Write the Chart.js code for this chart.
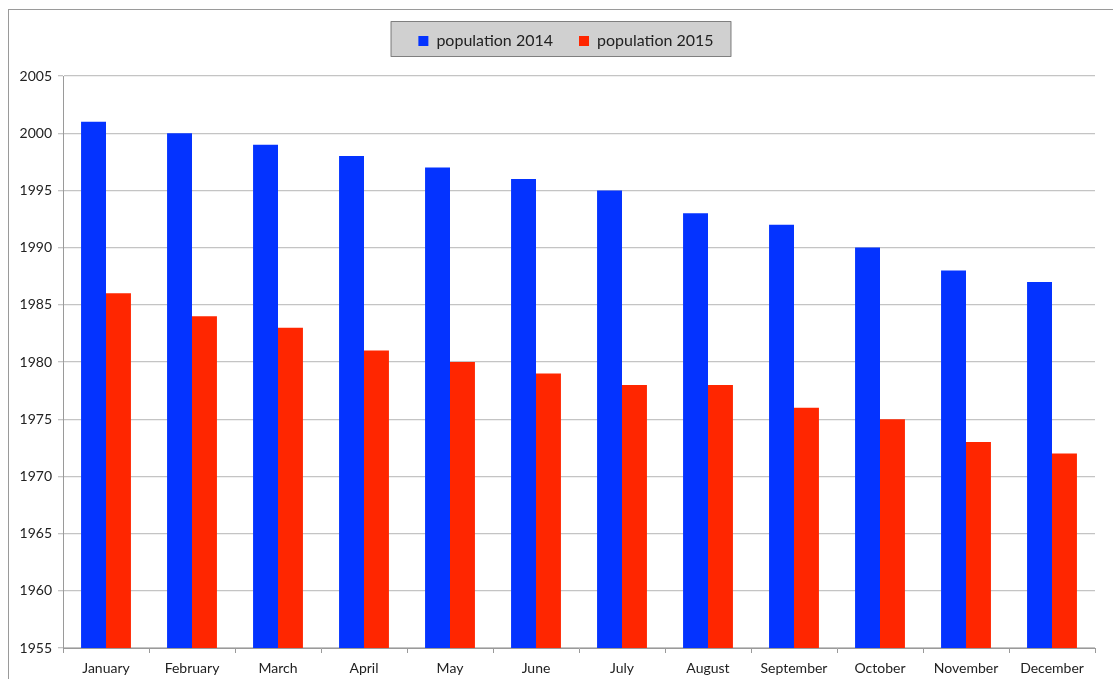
<!DOCTYPE html>
<html>
<head>
<meta charset="utf-8">
<title>Population 2014 / 2015</title>
<script src="https://cdn.jsdelivr.net/npm/chart.js@4"></script>
<style>
  html, body { margin: 0; padding: 0; overflow: hidden; background: #fff; }
  #wrap { position: relative; width: 1113px; height: 679px; }
  #marco { position: absolute; left: 8px; top: 9px; width: 1120px; height: 700px;
           border: 1px solid #9a9a9a; pointer-events: none; }
</style>
</head>
<body>
<div id="wrap">
  <canvas id="grafica" width="1113" height="679"></canvas>
  <div id="marco"></div>
</div>
<script>
// Datos
const meses = ["January", "February", "March", "April", "May", "June",
  "July", "August", "September", "October", "November", "December"];
const poblacion2014 = [2001, 2000, 1999, 1998, 1997, 1996, 1995, 1993, 1992, 1990, 1988, 1987];
const poblacion2015 = [1986, 1984, 1983, 1981, 1980, 1979, 1978, 1978, 1976, 1975, 1973, 1972];
const ejeMin = 1955;
const ejeMax = 2005;
const ejePaso = 5;

const fuente = "Lato, 'Open Sans', sans-serif";

// Caja gris detrás de la leyenda, y leyenda algo desplazada a la derecha
const cajaLeyenda = {
  id: "cajaLeyenda",
  beforeInit(chart) {
    const fitOriginal = chart.legend.fit;
    chart.legend.fit = function () {
      fitOriginal.bind(chart.legend)();
      this.height = 69;
    };
  },
  afterLayout(chart) {
    const leyenda = chart.legend;
    leyenda.left += 37;
    if (typeof leyenda.adjustHitBoxes === "function") leyenda.adjustHitBoxes();
  },
  afterDraw(chart) {
    const leyenda = chart.legend;
    const cajas = leyenda.legendHitBoxes;
    if (!cajas || !cajas.length) return;
    const izq = Math.min(...cajas.map(c => c.left));
    const der = Math.max(...cajas.map(c => c.left + c.width));
    const ctx = chart.ctx;
    ctx.save();
    ctx.globalCompositeOperation = "destination-over";
    ctx.fillStyle = "#d0d0d0";
    ctx.strokeStyle = "#555";
    ctx.lineWidth = 1.5;
    const x = izq - 27, y = leyenda.top + 15;
    const w = der - izq + 44, h = 34;
    ctx.fillRect(x, y, w, h);
    ctx.strokeRect(x, y, w, h);
    ctx.restore();
  }
};

const ctx = document.getElementById("grafica").getContext("2d");
new Chart(ctx, {
  type: "bar",
  data: {
    labels: meses,
    datasets: [
      {
        label: "population 2014",
        data: poblacion2014,
        backgroundColor: "#0433ff",
        borderWidth: 0,
        categoryPercentage: 0.58,
        barPercentage: 1.0,
      },
      {
        label: "population 2015",
        data: poblacion2015,
        backgroundColor: "#ff2600",
        borderWidth: 0,
        categoryPercentage: 0.58,
        barPercentage: 1.0,
      },
    ],
  },
  options: {
    responsive: false,
    animation: false,
    layout: { padding: { left: 0, right: 18, top: 7, bottom: 0 } },
    plugins: {
      tooltip: { enabled: false },
      legend: {
        position: "top",
        labels: {
          boxWidth: 10,
          boxHeight: 10,
          padding: 26,
          color: "#222",
          font: { family: fuente, size: 16 },
        },
      },
    },
    scales: {
      x: {
        afterFit(scale) { scale.height = 31; },
        grid: {
          drawOnChartArea: false,
          drawTicks: true,
          tickLength: 5,
          color: "#9a9a9a",
          offset: true,
        },
        border: { color: "#9a9a9a" },
        ticks: {
          color: "#222",
          padding: 7,
          font: { family: fuente, size: 14 },
        },
      },
      y: {
        min: ejeMin,
        max: ejeMax,
        afterFit(scale) { scale.width = 63; },
        grid: {
          color: "#c4c4c4",
          lineWidth: 1.3,
          tickLength: 5,
        },
        border: { color: "#9a9a9a" },
        ticks: {
          stepSize: ejePaso,
          color: "#222",
          padding: 6,
          font: { family: fuente, size: 14 },
          callback: (valor) => String(valor),
        },
      },
    },
  },
  plugins: [cajaLeyenda],
});
</script>
</body>
</html>
